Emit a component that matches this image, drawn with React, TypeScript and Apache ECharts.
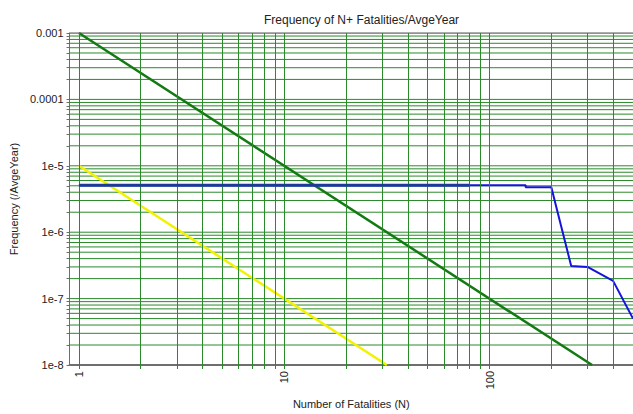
import React, { useEffect, useRef } from "react";
import * as echarts from "echarts";

// ---- data ----
const titleText = "Frequency of N+ Fatalities/AvgeYear";
const xAxisName = "Number of Fatalities (N)";
const yAxisName = "Frequency (/AvgeYear)";

const xMin = 0.9;
const xMax = 500;
const yMin = 1e-8;
const yMax = 1e-3;

const xTickValues = [1, 10, 100];
const xTickLabels = ["1", "10", "100"];
const yTickValues = [1e-8, 1e-7, 1e-6, 1e-5, 1e-4, 1e-3];
const yTickLabels = ["1e-8", "1e-7", "1e-6", "1e-5", "0.0001", "0.001"];

// criterion lines (N, frequency)
const upperCriterion: [number, number][] = [
  [1, 1e-3],
  [316, 1e-8],
];
const lowerCriterion: [number, number][] = [
  [1, 1e-5],
  [31.6, 1e-8],
];
// FN curve
const fnCurve: [number, number][] = [
  [1, 5.1e-6],
  [150, 5.1e-6],
  [150, 4.75e-6],
  [200, 4.75e-6],
  [250, 3.1e-7],
  [300, 3.0e-7],
  [400, 1.85e-7],
  [500, 5e-8],
];
const fnCurveDark: [number, number][] = [
  [1, 5.1e-6],
  [80, 5.1e-6],
];

const multipliers = [1, 2, 3, 4, 5, 6, 7, 8, 9];
const xDecades = [1, 10, 100];
const yDecades = [1e-8, 1e-7, 1e-6, 1e-5, 1e-4];

const xGridValues: number[] = [];
xDecades.forEach((d) =>
  multipliers.forEach((m) => {
    const v = d * m;
    if (v < xMax) xGridValues.push(v);
  })
);
const yGridValues: number[] = [];
yDecades.forEach((d) => multipliers.forEach((m) => yGridValues.push(d * m)));

const GRID_GREEN = "#2a8a2a";
const AXIS_GREY = "#6e6e6e";
const FONT = "Liberation Sans, Arial, sans-serif";

export default function App() {
  const ref = useRef<HTMLDivElement>(null);
  useEffect(() => {
    if (!ref.current) return;
    const chart = echarts.init(ref.current, undefined, { renderer: "svg" });
    const labelFor = (vals: number[], labels: string[], v: number) => {
      const e = Math.round(Math.log10(v));
      const idx = vals.findIndex((t) => Math.round(Math.log10(t)) === e);
      return idx >= 0 ? labels[idx] : "";
    };

    const horizontalGrid = yGridValues
      .filter((v) => v > yMin * 1.5)
      .map((v) => ({
        type: "line",
        data: [
          [xMin, v],
          [xMax, v],
        ],
        z: 1,
        silent: true,
        symbol: "none",
        lineStyle: { color: GRID_GREEN, width: 1 },
      }));

    chart.setOption({
      animation: false,
      backgroundColor: "#ffffff",
      title: {
        text: titleText,
        left: 259,
        top: 9,
        textStyle: { fontFamily: FONT, fontSize: 12, fontWeight: "normal", color: "#222" },
      },
      grid: { left: 69, right: 0, top: 33, bottom: 49, containLabel: false },
      xAxis: {
        type: "log",
        logBase: 10,
        min: xMin,
        max: xMax,
        name: xAxisName,
        nameLocation: "middle",
        nameGap: 33,
        nameTextStyle: { fontFamily: FONT, fontSize: 11, color: "#222" },
        axisLine: { show: true, lineStyle: { color: AXIS_GREY, width: 2 } },
        axisTick: {
          show: true,
          customValues: xGridValues,
          length: 4,
          lineStyle: { color: GRID_GREEN },
        },
        splitLine: { show: false },
        axisLabel: {
          customValues: xTickValues,
          rotate: 90,
          margin: 6,
          fontFamily: FONT,
          fontSize: 11,
          color: "#222",
          formatter: (v: number) => labelFor(xTickValues, xTickLabels, v),
        },
      },
      yAxis: {
        type: "log",
        logBase: 10,
        min: yMin,
        max: yMax,
        name: yAxisName,
        nameLocation: "middle",
        nameGap: 42,
        nameRotate: 90,
        nameTextStyle: { fontFamily: FONT, fontSize: 11, color: "#222" },
        axisLine: { show: true, lineStyle: { color: AXIS_GREY, width: 1 } },
        axisTick: {
          show: true,
          customValues: [...yGridValues, yMax],
          length: 3,
          lineStyle: { color: AXIS_GREY },
        },
        splitLine: { show: false },
        axisLabel: {
          customValues: yTickValues,
          margin: 6,
          fontFamily: FONT,
          fontSize: 11,
          color: "#222",
          formatter: (v: number) => labelFor(yTickValues, yTickLabels, v),
        },
      },
      series: [
        {
          type: "line",
          data: [],
          z: 1,
          silent: true,
          markLine: {
            silent: true,
            symbol: ["none", "none"],
            label: { show: false },
            lineStyle: { color: GRID_GREEN, width: 1, type: "solid" },
            emphasis: { disabled: true },
            data: xGridValues.map((v) => ({ xAxis: v })),
          },
        },
        ...horizontalGrid,
        {
          type: "line",
          data: [
            [xMin, yMax],
            [xMax, yMax],
          ],
          z: 2,
          silent: true,
          symbol: "none",
          lineStyle: { color: AXIS_GREY, width: 1.5 },
        },
        {
          type: "line",
          data: upperCriterion,
          z: 3,
          symbol: "none",
          lineStyle: { color: "#137a13", width: 2.5 },
        },
        {
          type: "line",
          data: lowerCriterion,
          z: 3,
          symbol: "none",
          lineStyle: { color: "#f2f200", width: 2.5 },
        },
        {
          type: "line",
          data: fnCurve,
          z: 4,
          symbol: "none",
          lineStyle: { color: "#1414dc", width: 2 },
        },
        {
          type: "line",
          data: fnCurveDark,
          z: 5,
          symbol: "none",
          lineStyle: { color: "#1c3a98", width: 3 },
        },
      ],
    });
    return () => chart.dispose();
  }, []);
  return (
    <div
      ref={ref}
      style={{ position: "fixed", left: 0, top: 0, width: 633, height: 414 }}
    />
  );
}
